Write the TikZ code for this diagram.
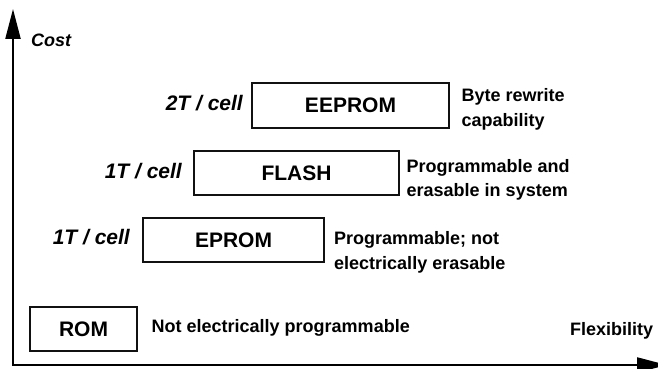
\documentclass[tikz,border=0pt]{standalone}
\usepackage{fontspec}
\setmainfont{Liberation Sans}
\usepackage{xcolor}
\usepackage{tikz}
\usetikzlibrary{arrows.meta}
\definecolor{memInk}{HTML}{000000}
\definecolor{memLine}{HTML}{111111}
\tikzset{
  mem diagram/.style={x=1pt, y=-1pt, text=memInk,
    line cap=butt, line join=miter},
  mem box/.style={draw=memLine, fill=white, line width=1.8pt,
    inner sep=0pt, font=\fontsize{21}{25}\selectfont\bfseries},
  mem tag/.style={inner sep=0pt, anchor=base east,
    font=\fontsize{21}{25}\selectfont\bfseries\itshape},
  mem note/.style={inner sep=0pt, anchor=base west, align=left,
    font=\fontsize{18}{24.5}\selectfont\bfseries},
  mem axis/.style={{Triangle[length=30pt,width=15pt]}-{Triangle[length=30pt,width=15pt]},
    draw=memInk, line width=2.2pt}
}

\begin{document}
\begin{tikzpicture}[mem diagram]
\useasboundingbox (0,0) rectangle (658,369);
% axes
\coordinate (ytip) at (13,9);
\coordinate (origin) at (13,365);
\coordinate (xtip) at (667,365);
\draw[mem axis] (ytip) -- (origin) -- (xtip);
\node[inner sep=0pt, anchor=base west, font=\fontsize{18}{22}\selectfont\bfseries\itshape] (cost) at (31,47) {Cost};
\node[inner sep=0pt, anchor=base west, font=\fontsize{18}{22}\selectfont\bfseries] (flex) at (570,335) {Flexibility};
% memory types
\node[mem box, minimum width=197pt, minimum height=45pt] (eeprom) at (350.5,105.5) {EEPROM};
\node[mem box, minimum width=205pt, minimum height=44pt] (flash) at (296.5,173) {FLASH};
\node[mem box, minimum width=181pt, minimum height=44pt] (eprom) at (233.5,240) {EPROM};
\node[mem box, minimum width=107pt, minimum height=44pt] (rom) at (83.5,329) {ROM};
% cell size
\node[mem tag] (eepromcell) at (243,110) {2T / cell};
\node[mem tag] (flashcell) at (182,178) {1T / cell};
\node[mem tag] (epromcell) at (130,244) {1T / cell};
% properties (base = last line)
\node[mem note] (eepromnote) at (461.5,126) {Byte rewrite\\capability};
\node[mem note] (flashnote) at (406.5,196.5) {Programmable and\\erasable in system};
\node[mem note] (epromnote) at (334,269) {Programmable; not\\electrically erasable};
\node[mem note] (romnote) at (151.5,332) {Not electrically programmable};
\end{tikzpicture}
\end{document}
